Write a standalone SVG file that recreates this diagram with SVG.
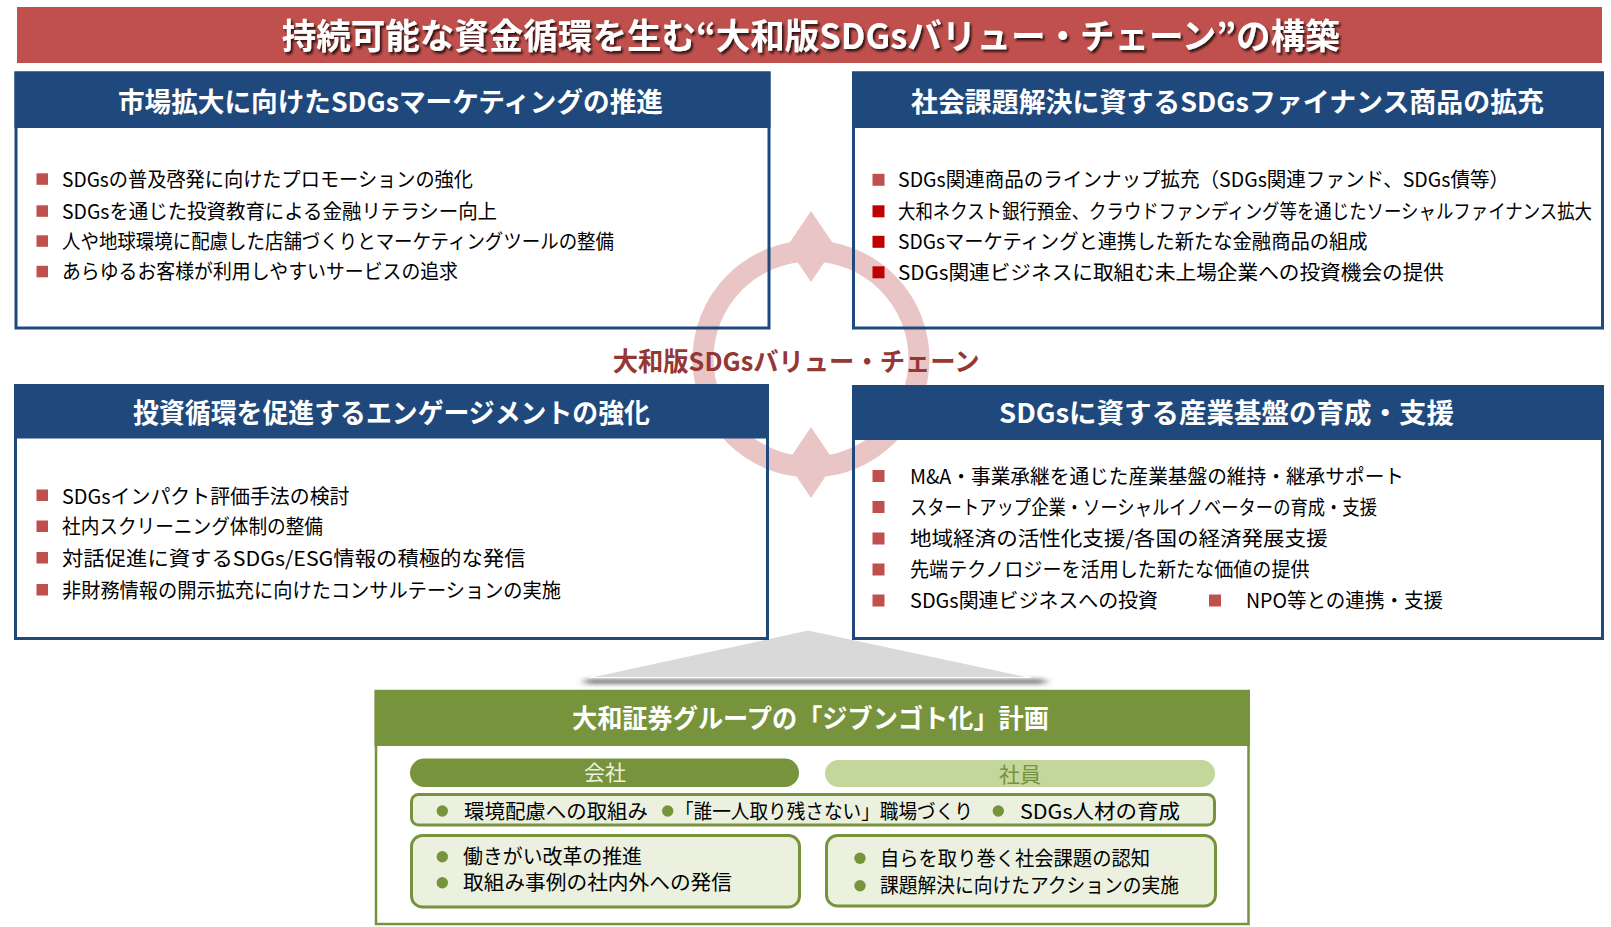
<svg xmlns="http://www.w3.org/2000/svg" width="1611" height="927" viewBox="0 0 1611 927">
<defs>
<style>
.hd{font-family:"Noto Sans CJK JP","Noto Sans",sans-serif;font-weight:700;fill:#fff;font-size:27px;}
.bt{font-family:"Noto Sans CJK JP","Noto Sans",sans-serif;font-size:20px;fill:#000;}
.sq{fill:#C0504D;}
.sq2{fill:#C00000;}
.box{fill:none;stroke:#1F497D;stroke-width:3;}
.hdr{fill:#1F497D;}
.gb{fill:#EBF1DE;stroke:#77933C;stroke-width:3;}
.dot{fill:#77933C;}
.ring{fill:#EAC5C5;}
</style>
<filter id="tshadow" x="-5%" y="-30%" width="110%" height="170%">
<feDropShadow dx="2" dy="2.5" stdDeviation="1.3" flood-color="#000" flood-opacity="0.75"/>
</filter>
<filter id="blur" x="-10%" y="-300%" width="120%" height="700%">
<feGaussianBlur stdDeviation="5 2.2"/>
</filter>
</defs>
<rect width="1611" height="927" fill="#fff"/>

<g id="title">
<rect x="17" y="7" width="1585" height="56" fill="#C0504D"/>
<text class="hd" x="281.7" y="49" style="font-size:35px" textLength="1058" lengthAdjust="spacingAndGlyphs" filter="url(#tshadow)">持続可能な資金循環を生む“大和版SDGsバリュー・チェーン”の構築</text>
</g>

<g id="connectors">
<g id="cycle">
<circle cx="811" cy="359" r="108" fill="none" stroke="#EAC5C5" stroke-width="21"/>
<polygon class="ring" points="811,211 832,242 824.5,262 811,282 797.5,262 790,242"/>
<polygon class="ring" points="811,427 830.5,456 824.5,478 811,498 797.5,478 791.5,456"/>
</g>
<g id="roof">
<rect x="585" y="679" width="460" height="5" fill="#7a7a7a" filter="url(#blur)"/>
<polygon points="808,630 1031,677.5 589,677.5" fill="#D9D9D9" stroke="#fff" stroke-width="1.2"/>
</g>
</g>

<g id="center-label">
<text class="hd" x="612.7" y="371" style="font-size:26px;fill:#953735" textLength="367" lengthAdjust="spacingAndGlyphs">大和版SDGsバリュー・チェーン</text>
</g>

<g id="node-marketing">
<rect class="box" x="16" y="73" width="753" height="255"/>
<rect class="hdr" x="14.5" y="71.5" width="756" height="56.5"/>
<text class="hd" x="118" y="112" textLength="545" lengthAdjust="spacingAndGlyphs">市場拡大に向けたSDGsマーケティングの推進</text>
<rect class="sq" x="36.5" y="173.3" width="11.5" height="11.5"/>
<rect class="sq" x="36.5" y="205.3" width="11.5" height="11.5"/>
<rect class="sq" x="36.5" y="235.3" width="11.5" height="11.5"/>
<rect class="sq" x="36.5" y="265.8" width="11.5" height="11.5"/>
<text class="bt" x="62" y="186.6" textLength="411" lengthAdjust="spacingAndGlyphs">SDGsの普及啓発に向けたプロモーションの強化</text>
<text class="bt" x="62" y="218.6" textLength="435" lengthAdjust="spacingAndGlyphs">SDGsを通じた投資教育による金融リテラシー向上</text>
<text class="bt" x="62" y="248.6" textLength="552" lengthAdjust="spacingAndGlyphs">人や地球環境に配慮した店舗づくりとマーケティングツールの整備</text>
<text class="bt" x="62" y="279.1" textLength="396" lengthAdjust="spacingAndGlyphs">あらゆるお客様が利用しやすいサービスの追求</text>
</g>

<g id="node-finance">
<rect class="box" x="853.5" y="73" width="749" height="255"/>
<rect class="hdr" x="852" y="71.5" width="752" height="56.5"/>
<text class="hd" x="911" y="112" textLength="633" lengthAdjust="spacingAndGlyphs">社会課題解決に資するSDGsファイナンス商品の拡充</text>
<rect class="sq" x="872.5" y="173.8" width="12" height="12"/>
<rect class="sq2" x="872.5" y="205.3" width="12" height="12"/>
<rect class="sq2" x="872.5" y="235.8" width="12" height="12"/>
<rect class="sq2" x="872.5" y="266.3" width="12" height="12"/>
<text class="bt" x="898" y="187.1" textLength="611" lengthAdjust="spacingAndGlyphs">SDGs関連商品のラインナップ拡充（SDGs関連ファンド、SDGs債等）</text>
<text class="bt" x="898" y="218.6" textLength="694" lengthAdjust="spacingAndGlyphs">大和ネクスト銀行預金、クラウドファンディング等を通じたソーシャルファイナンス拡大</text>
<text class="bt" x="898" y="249.1" textLength="469.5" lengthAdjust="spacingAndGlyphs">SDGsマーケティングと連携した新たな金融商品の組成</text>
<text class="bt" x="898" y="279.6" textLength="546" lengthAdjust="spacingAndGlyphs">SDGs関連ビジネスに取組む未上場企業への投資機会の提供</text>
</g>

<g id="node-engagement">
<rect class="box" x="15.5" y="385.5" width="752" height="253"/>
<rect class="hdr" x="14" y="384" width="755" height="54.5"/>
<text class="hd" x="133" y="422.5" textLength="517" lengthAdjust="spacingAndGlyphs">投資循環を促進するエンゲージメントの強化</text>
<rect class="sq" x="36.5" y="489.5" width="11.5" height="11.5"/>
<rect class="sq" x="36.5" y="520.5" width="11.5" height="11.5"/>
<rect class="sq" x="36.5" y="552" width="11.5" height="11.5"/>
<rect class="sq" x="36.5" y="584" width="11.5" height="11.5"/>
<text class="bt" x="62" y="503.6" textLength="287.5" lengthAdjust="spacingAndGlyphs">SDGsインパクト評価手法の検討</text>
<text class="bt" x="62" y="534.3" textLength="261" lengthAdjust="spacingAndGlyphs">社内スクリーニング体制の整備</text>
<text class="bt" x="62" y="565.6" textLength="463.5" lengthAdjust="spacingAndGlyphs">対話促進に資するSDGs/ESG情報の積極的な発信</text>
<text class="bt" x="62" y="597.6" textLength="499" lengthAdjust="spacingAndGlyphs">非財務情報の開示拡充に向けたコンサルテーションの実施</text>
</g>

<g id="node-industry">
<rect class="box" x="853.5" y="386.5" width="749" height="252"/>
<rect class="hdr" x="852" y="385" width="752" height="55"/>
<text class="hd" x="999" y="423" textLength="455" lengthAdjust="spacingAndGlyphs">SDGsに資する産業基盤の育成・支援</text>
<rect class="sq" x="872.5" y="470" width="12" height="12"/>
<rect class="sq" x="872.5" y="501" width="12" height="12"/>
<rect class="sq" x="872.5" y="532.5" width="12" height="12"/>
<rect class="sq" x="872.5" y="563.5" width="12" height="12"/>
<rect class="sq" x="872.5" y="594.5" width="12" height="12"/>
<rect class="sq" x="1209" y="594.5" width="12" height="12"/>
<text class="bt" x="910" y="483.6" textLength="494" lengthAdjust="spacingAndGlyphs">M&amp;A・事業承継を通じた産業基盤の維持・継承サポート</text>
<text class="bt" x="910" y="514.6" textLength="467" lengthAdjust="spacingAndGlyphs">スタートアップ企業・ソーシャルイノベーターの育成・支援</text>
<text class="bt" x="910" y="546.1" textLength="417.7" lengthAdjust="spacingAndGlyphs">地域経済の活性化支援/各国の経済発展支援</text>
<text class="bt" x="910" y="577.1" textLength="399.6" lengthAdjust="spacingAndGlyphs">先端テクノロジーを活用した新たな価値の提供</text>
<text class="bt" x="910" y="608.1" textLength="248" lengthAdjust="spacingAndGlyphs">SDGs関連ビジネスへの投資</text>
<text class="bt" x="1246" y="608.1" textLength="197" lengthAdjust="spacingAndGlyphs">NPO等との連携・支援</text>
</g>

<g id="node-jibungoto">
<rect x="376" y="691" width="872.5" height="233" fill="#fff" stroke="#77933C" stroke-width="2.5"/>
<rect x="374.5" y="690" width="875.5" height="56" fill="#77933C"/>
<text class="hd" x="572" y="727.5" style="font-size:26px" textLength="477" lengthAdjust="spacingAndGlyphs">大和証券グループの「ジブンゴト化」計画</text>
<rect x="410" y="758.5" width="389" height="28.5" rx="14.25" fill="#77933C"/>
<text class="bt" x="605" y="780" text-anchor="middle" style="font-size:21px;fill:#EBF1DE">会社</text>
<rect x="825" y="760" width="390" height="27" rx="13.5" fill="#C3D69B"/>
<text class="bt" x="1020" y="782" text-anchor="middle" style="font-size:21px;fill:#76923C">社員</text>
<rect class="gb" x="411.5" y="794.5" width="803" height="30.5" rx="7"/>
<circle class="dot" cx="442.3" cy="811" r="5.7"/>
<circle class="dot" cx="667.7" cy="811" r="5.7"/>
<circle class="dot" cx="998.3" cy="811" r="5.7"/>
<text class="bt" x="464" y="819" textLength="184" lengthAdjust="spacingAndGlyphs">環境配慮への取組み</text>
<text class="bt" x="675" y="819" textLength="298" lengthAdjust="spacingAndGlyphs">「誰一人取り残さない」職場づくり</text>
<text class="bt" x="1020" y="819" textLength="160" lengthAdjust="spacingAndGlyphs">SDGs人材の育成</text>
<rect class="gb" x="411.5" y="835.5" width="388" height="71.5" rx="11"/>
<circle class="dot" cx="442.3" cy="856.7" r="5.7"/>
<circle class="dot" cx="442.3" cy="882.7" r="5.7"/>
<text class="bt" x="463" y="863.5" textLength="179" lengthAdjust="spacingAndGlyphs">働きがい改革の推進</text>
<text class="bt" x="463" y="889.6" textLength="269" lengthAdjust="spacingAndGlyphs">取組み事例の社内外への発信</text>
<rect class="gb" x="826.5" y="835.5" width="389" height="70.5" rx="11"/>
<circle class="dot" cx="860" cy="858.3" r="5.7"/>
<circle class="dot" cx="860" cy="885.7" r="5.7"/>
<text class="bt" x="880" y="865.5" textLength="270" lengthAdjust="spacingAndGlyphs">自らを取り巻く社会課題の認知</text>
<text class="bt" x="880" y="892.5" textLength="299" lengthAdjust="spacingAndGlyphs">課題解決に向けたアクションの実施</text>
</g>
</svg>
